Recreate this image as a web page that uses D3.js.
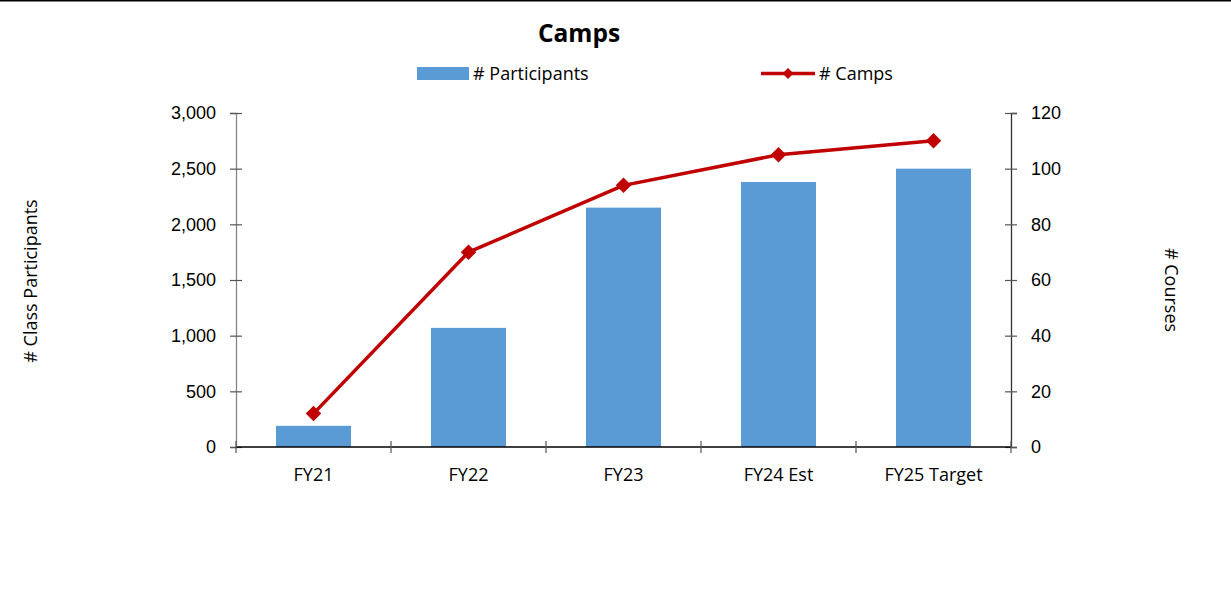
<!DOCTYPE html>
<html>
<head>
<meta charset="utf-8">
<script src="https://cdn.jsdelivr.net/npm/d3@7/dist/d3.min.js"></script>
<style>
  html, body { margin: 0; padding: 0; background: #fff; }
  svg { display: block; font-family: "Open Sans", Lato, sans-serif; }
</style>
</head>
<body>
<svg id="chart" width="1231" height="612"></svg>
<script>
// Fiscal years shown along the bottom
const categories = ["FY21", "FY22", "FY23", "FY24 Est", "FY25 Target"];
// Bars: number of class participants (left axis)
const participants = [190, 1070, 2150, 2380, 2500];
// Line: number of camps (right axis)
const camps = [12, 70, 94, 105, 110];
// Axis tick values
const leftTicks = [0, 500, 1000, 1500, 2000, 2500, 3000];
const rightTicks = [0, 20, 40, 60, 80, 100, 120];

const svg = d3.select("#chart");
const W = 1231, H = 612;
const plot = { left: 236, right: 1011, top: 113, bottom: 447 };
const fs = 18;

const barColor = "#5B9BD5";
const lineColor = "#C00000";
const textColor = "#000";

// Frame line across the top edge
svg.append("line")
  .attr("x1", 0).attr("x2", W).attr("y1", 0.75).attr("y2", 0.75)
  .attr("stroke", "#000").attr("stroke-width", 1.5);

const x = d3.scaleBand().domain(categories).range([plot.left, plot.right]).paddingInner(0.516).paddingOuter(0.258);
const xb = d3.scaleBand().domain(categories).range([plot.left, plot.right]);
const yL = d3.scaleLinear().domain([0, 3000]).range([plot.bottom, plot.top]);
const yR = d3.scaleLinear().domain([0, 120]).range([plot.bottom, plot.top]);

// Bars
svg.append("g").selectAll("rect").data(categories).join("rect")
  .attr("x", d => x(d))
  .attr("width", x.bandwidth())
  .attr("y", (d, i) => yL(participants[i]))
  .attr("height", (d, i) => plot.bottom - yL(participants[i]))
  .attr("fill", barColor);

// Left axis
const gL = svg.append("g").attr("transform", `translate(${plot.left},0)`)
  .call(d3.axisLeft(yL).tickValues(leftTicks).tickFormat(d3.format(",")).tickSize(6).tickPadding(14));
gL.select(".domain").attr("stroke", "#868686").attr("stroke-width", 1.3);
gL.selectAll(".tick line").attr("x2", 6).attr("x1", -6).attr("stroke", "#555").attr("stroke-width", 1.2);
gL.selectAll(".tick text").attr("font-size", fs).attr("fill", textColor).attr("x", -20);

// Right axis
const gR = svg.append("g").attr("transform", `translate(${plot.right},0)`)
  .call(d3.axisRight(yR).tickValues(rightTicks).tickSize(6).tickPadding(14));
gR.select(".domain").attr("stroke", "#333").attr("stroke-width", 1.3);
gR.selectAll(".tick line").attr("x1", -6).attr("x2", 6).attr("stroke", "#555").attr("stroke-width", 1.2);
gR.selectAll(".tick text").attr("font-size", fs).attr("fill", textColor).attr("x", 20);

// Bottom axis with tick marks at category boundaries
const gX = svg.append("g").attr("transform", `translate(0,${plot.bottom})`);
gX.append("line").attr("x1", plot.left).attr("x2", plot.right)
  .attr("stroke", "#000").attr("stroke-width", 1.3);
const bounds = categories.map(c => xb(c)).concat([plot.right]);
gX.selectAll("line.b").data(bounds).join("line").attr("class", "b")
  .attr("x1", d => d).attr("x2", d => d).attr("y1", -6).attr("y2", 6)
  .attr("stroke", "#555").attr("stroke-width", 1.2);
gX.selectAll("text").data(categories).join("text")
  .attr("x", d => xb(d) + xb.bandwidth() / 2)
  .attr("y", 34)
  .attr("text-anchor", "middle")
  .attr("font-size", fs).attr("fill", textColor)
  .text(d => d);

// Line series
const cx = d => xb(d) + xb.bandwidth() / 2;
svg.append("path")
  .datum(categories)
  .attr("fill", "none")
  .attr("stroke", lineColor)
  .attr("stroke-width", 3.5)
  .attr("stroke-linejoin", "round")
  .attr("d", d3.line().x(d => cx(d)).y((d, i) => yR(camps[i])));

svg.append("g").selectAll("path").data(categories).join("path")
  .attr("d", d3.symbol(d3.symbolSquare, 120)())
  .attr("transform", (d, i) => `translate(${cx(d)},${yR(camps[i])}) rotate(45)`)
  .attr("fill", lineColor);

// Title
svg.append("text").attr("x", 579).attr("y", 42).attr("text-anchor", "middle")
  .attr("font-size", 24.5).attr("font-weight", "bold").attr("fill", textColor).text("Camps");

// Legend
const lg = svg.append("g");
lg.append("rect").attr("x", 417).attr("y", 67).attr("width", 52).attr("height", 13).attr("fill", barColor);
lg.append("text").attr("x", 473).attr("y", 80).attr("font-size", fs).attr("fill", textColor).text("# Participants");
lg.append("line").attr("x1", 761).attr("x2", 815).attr("y1", 73.5).attr("y2", 73.5)
  .attr("stroke", lineColor).attr("stroke-width", 3.5);
lg.append("path").attr("d", d3.symbol(d3.symbolSquare, 60)())
  .attr("transform", "translate(788,73.5) rotate(45)").attr("fill", lineColor);
lg.append("text").attr("x", 819).attr("y", 80).attr("font-size", fs).attr("fill", textColor).text("# Camps");

// Axis titles
svg.append("text").attr("transform", "translate(37,281) rotate(-90)")
  .attr("text-anchor", "middle").attr("font-size", fs).attr("fill", textColor).text("# Class Participants");
svg.append("text").attr("transform", "translate(1165,290) rotate(90)")
  .attr("text-anchor", "middle").attr("font-size", fs).attr("fill", textColor).text("# Courses");
</script>
</body>
</html>
